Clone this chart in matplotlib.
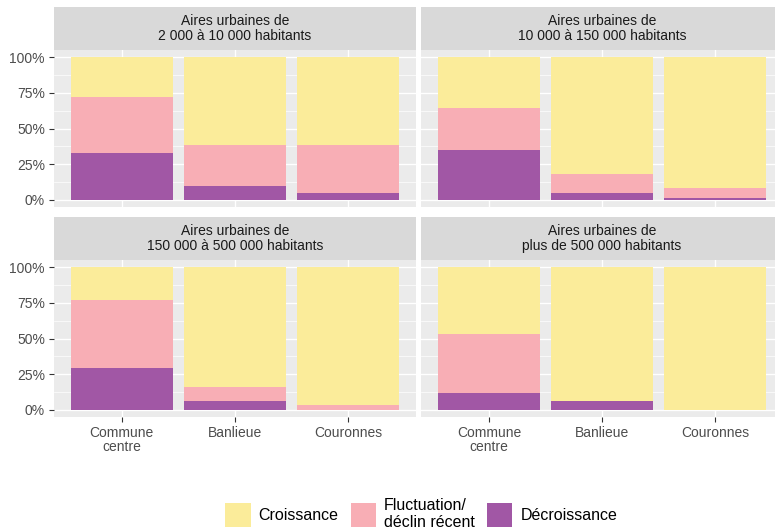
import matplotlib
matplotlib.use("Agg")
import matplotlib.pyplot as plt
from matplotlib.patches import Patch, Rectangle
from matplotlib.ticker import FuncFormatter, MultipleLocator
import numpy as np

plt.rcParams["font.family"] = ["Liberation Sans", "DejaVu Sans"]

categories = ["Commune\ncentre", "Banlieue", "Couronnes"]
panel_titles = [
    "Aires urbaines de\n2 000 à 10 000 habitants",
    "Aires urbaines de\n10 000 à 150 000 habitants",
    "Aires urbaines de\n150 000 à 500 000 habitants",
    "Aires urbaines de\nplus de 500 000 habitants",
]
# shares (%) per panel, per category
decroissance = [[33, 10, 5], [35, 5, 1], [29, 6, 0], [12, 6.5, 0]]
fluctuation = [[39, 28.5, 33.5], [29.5, 13, 7], [48, 10, 3.5], [41, 0, 0]]
croissance = [[28, 61.5, 61.5], [35.5, 82, 92], [23, 84, 96.5], [47, 93.5, 100]]

legend_labels = ["Croissance", "Fluctuation/\ndéclin récent", "Décroissance"]
c_crois = "#FBEC9A"
c_fluct = "#F8AEB5"
c_decr = "#A157A5"

W, H = 775, 529
fig = plt.figure(figsize=(W / 100, H / 100), dpi=100)

# panel boxes in pixels: (left, top, right, bottom)
boxes = [(54, 50, 416, 207), (421, 50, 783, 207),
         (54, 260, 416, 417), (421, 260, 783, 417)]
strip_h = 43

x = np.arange(1, len(categories) + 1)
for i, (l, t, r, b) in enumerate(boxes):
    ax = fig.add_axes([l / W, 1 - b / H, (r - l) / W, (b - t) / H])
    ax.set_facecolor("#EBEBEB")
    d = np.array(decroissance[i]) / 100
    f = np.array(fluctuation[i]) / 100
    c = np.array(croissance[i]) / 100
    ax.bar(x, d, width=0.9, color=c_decr, zorder=3)
    ax.bar(x, f, width=0.9, bottom=d, color=c_fluct, zorder=3)
    ax.bar(x, c, width=0.9, bottom=d + f, color=c_crois, zorder=3)

    ax.set_xlim(0.4, 3.6)
    ax.set_ylim(-0.05, 1.05)
    ax.set_xticks(x)
    ax.yaxis.set_major_locator(MultipleLocator(0.25))
    ax.yaxis.set_minor_locator(MultipleLocator(0.125))
    ax.grid(which="major", color="white", linewidth=1.0, zorder=0)
    ax.grid(which="minor", axis="y", color="white", linewidth=0.5, zorder=0)
    ax.set_axisbelow(True)
    for s in ax.spines.values():
        s.set_visible(False)
    ax.tick_params(which="minor", length=0)
    ax.tick_params(which="major", length=3.5, width=0.8, color="#333333",
                   labelcolor="#4D4D4D", labelsize=10, pad=3)

    if i % 2 == 0:
        ax.yaxis.set_major_formatter(FuncFormatter(lambda v, p: f"{v * 100:.0f}%"))
    else:
        ax.tick_params(axis="y", length=0, labelleft=False)
    if i < 2:
        ax.tick_params(axis="x", length=0, labelbottom=False)
    else:
        ax.set_xticklabels(categories, linespacing=1.0)

    sh = strip_h / (b - t)
    ax.add_patch(Rectangle((0, 1), 1, sh, transform=ax.transAxes,
                           facecolor="#D9D9D9", edgecolor="none", clip_on=False))
    ax.text(0.5 * (416 - 54) / (r - l), 1 + sh / 2, panel_titles[i],
            transform=ax.transAxes, ha="center", va="center",
            fontsize=10, color="#1A1A1A", linespacing=1.05)

handles = [Patch(facecolor=c_crois), Patch(facecolor=c_fluct), Patch(facecolor=c_decr)]
fig.legend(handles, legend_labels, loc="upper left",
           bbox_to_anchor=(225 / W, 1 - 498 / H), ncol=3, frameon=False,
           fontsize=11.5, handlelength=1.6, handleheight=1.9,
           handletextpad=0.5, columnspacing=0.75, borderpad=0, borderaxespad=0,
           labelspacing=0.3)

fig.savefig("out.png", dpi=100)
